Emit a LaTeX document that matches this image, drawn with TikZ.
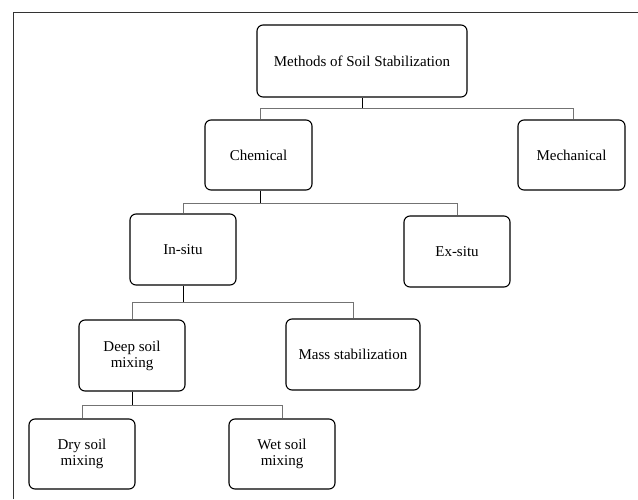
\documentclass[tikz,border=0pt]{standalone}
\usepackage{fontspec}
\setmainfont{Liberation Serif}
\begin{document}
\begin{tikzpicture}[x=1pt,y=-1pt,
  box/.style={draw=black,line width=1.1pt,rounded corners=6pt,align=center,
    inner sep=0pt,font=\fontsize{15}{16}\selectfont},
  stub/.style={draw=black,line width=0.9pt},
  bus/.style={draw=black!55,line width=0.9pt}]
\useasboundingbox (0,0) rectangle (638,499);
% frame
\draw[line width=0.9pt,black!80] (13,499) -- (13,12) -- (638,12);
% nodes
\node[box,minimum width=210pt,minimum height=72pt] (meth) at (362,61) {Methods of Soil Stabilization};
\node[box,minimum width=107pt,minimum height=70pt] (chem) at (258.5,155) {Chemical};
\node[box,minimum width=107pt,minimum height=70pt] (mech) at (571.5,155) {Mechanical};
\node[box,minimum width=106pt,minimum height=71pt] (insitu) at (183,249.5) {In-situ};
\node[box,minimum width=106pt,minimum height=71pt] (exsitu) at (457,251.5) {Ex-situ};
\node[box,minimum width=106pt,minimum height=71pt] (deep) at (132,355.5) {Deep soil\\mixing};
\node[box,minimum width=134pt,minimum height=71pt] (mass) at (353,354.5) {Mass stabilization};
\node[box,minimum width=106pt,minimum height=70pt] (dry) at (82,454) {Dry soil\\mixing};
\node[box,minimum width=106pt,minimum height=70pt] (wet) at (282,454) {Wet soil\\mixing};
% bus coordinates
\coordinate (b1) at (362,108);
\coordinate (b2) at (260,203);
\coordinate (b3) at (183,302);
\coordinate (b4) at (132,405);
% connectors
\draw[bus] (chem.north -| 260,0) -- (260,108) -- (573,108) -- (mech.north -| 573,0);
\draw[stub] (meth.south) -- (b1);
\draw[bus] (insitu.north) -- (insitu.north |- b2) -- (exsitu.north |- b2) -- (exsitu.north);
\draw[stub] (chem.south -| b2) -- (b2);
\draw[bus] (deep.north) -- (deep.north |- b3) -- (mass.north |- b3) -- (mass.north);
\draw[stub] (insitu.south) -- (b3);
\draw[bus] (dry.north) -- (dry.north |- b4) -- (wet.north |- b4) -- (wet.north);
\draw[stub] (deep.south) -- (b4);
\end{tikzpicture}
\end{document}
